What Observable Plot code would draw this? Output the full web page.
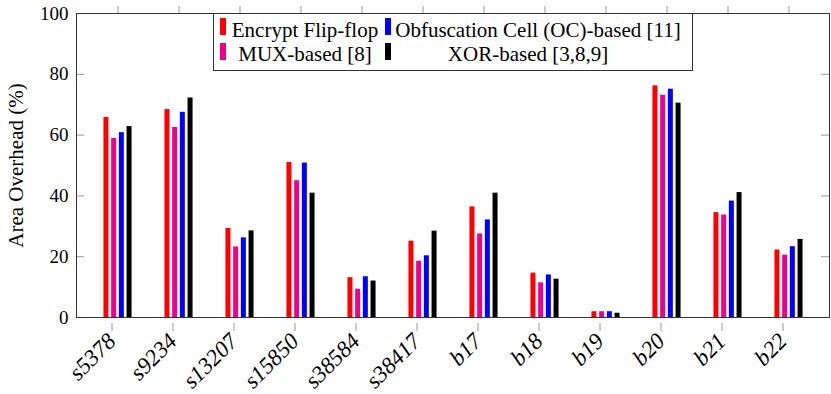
<!DOCTYPE html>
<html><head><meta charset="utf-8">
<script src="https://cdn.jsdelivr.net/npm/d3@7"></script>
<script src="https://cdn.jsdelivr.net/npm/@observablehq/plot@0.6"></script>
<style>
body{margin:0;background:#fff;}
#wrap{position:relative;width:831px;height:394px;font-family:'Liberation Serif',serif;}
#legend{position:absolute;left:213px;top:13px;width:480px;height:58px;border:1px solid #333;background:#fff;box-sizing:border-box;}
#legend .patch{position:absolute;width:6px;height:17px;}
#legend .lab{position:absolute;transform:translateX(-50%);white-space:nowrap;font-size:21px;line-height:21px;color:#000;font-family:'Liberation Serif',serif;}
</style></head><body><div id="wrap"></div>
<script>
const categories = ["s5378","s9234","s13207","s15850","s38584","s38417","b17","b18","b19","b20","b21","b22"];
const seriesNames = ["Encrypt Flip-flop","MUX-based [8]","Obfuscation Cell (OC)-based [11]","XOR-based [3,8,9]"];
const seriesColors = ["#ff0000","#ec008c","#0000ff","#000000"];
const encryptFF = [65.8,68.4,29.3,51.0,13.1,25.1,36.4,14.6,1.9,76.2,34.5,22.2];
const muxBased  = [58.9,62.5,23.2,45.0,9.3,18.5,27.5,11.4,1.9,73.1,33.7,20.5];
const ocBased   = [60.8,67.5,26.2,50.8,13.4,20.3,32.1,14.0,1.9,75.1,38.3,23.3];
const xorBased  = [62.8,72.2,28.5,40.9,12.0,28.4,40.9,12.6,1.4,70.5,41.1,25.7];
const yTicks = [0,20,40,60,80,100];
const legendOrder = [0,2,1,3];

const seriesValues = [encryptFF, muxBased, ocBased, xorBased];
const data = seriesValues.flatMap((vals,j)=>vals.map((v,i)=>({cat:categories[i], value:v, j})));
const offsets = [-11.55,-3.85,3.85,11.55];
const FONT = "'Liberation Serif', serif";

const plot = Plot.plot({
  width:831, height:394, marginLeft:76, marginRight:2, marginTop:13, marginBottom:77,
  style:{fontFamily:FONT, fontSize:"19px", color:"#000", background:"#fff"},
  x:{type:"band", domain:categories, paddingInner:0.92, paddingOuter:0.624, label:null},
  y:{domain:[0,100], label:null},
  marks:[
    ...seriesValues.map((_,j)=>Plot.barY(data.filter(d=>d.j===j), {x:"cat", y:"value", fill:seriesColors[j], dx:offsets[j]})),
    Plot.tickY(yTicks, {y:d=>d, insetRight:745, stroke:"#999"}),
    Plot.tickY(yTicks, {y:d=>d, insetLeft:745, stroke:"#999"}),
    Plot.axisY({ticks:yTicks, tickSize:0, tickPadding:8, fontSize:19}),
    Plot.axisY({ticks:[], tickSize:0, label:"Area Overhead (%)", labelAnchor:"center", labelOffset:68, labelArrow:false, fontSize:21}),
    Plot.axisX({anchor:"bottom", tickSize:8, tickRotate:-45, fontStyle:"italic", fontSize:23, stroke:"#999", label:null, dx:-6, dy:6}),
    Plot.axisX({anchor:"top", tickSize:8, tickFormat:()=>"", stroke:"#999", label:null}),
    Plot.frame({stroke:"#333"})
  ]
});
const wrap = document.getElementById("wrap");
wrap.appendChild(plot);

const legend = document.createElement("div");
legend.id = "legend";
const patchPos = [[6,4],[171,4],[6,29],[171,29]];
const labelPos = [[91,6],[324,6],[91,30],[314,30]];
legendOrder.forEach((j,k)=>{
  const p = document.createElement("div");
  p.className = "patch";
  p.style.left = patchPos[k][0]+"px"; p.style.top = patchPos[k][1]+"px";
  p.style.background = seriesColors[j];
  legend.appendChild(p);
  const t = document.createElement("div");
  t.className = "lab";
  t.style.left = labelPos[k][0]+"px"; t.style.top = labelPos[k][1]+"px";
  t.textContent = seriesNames[j];
  legend.appendChild(t);
});
wrap.appendChild(legend);
</script></body></html>
